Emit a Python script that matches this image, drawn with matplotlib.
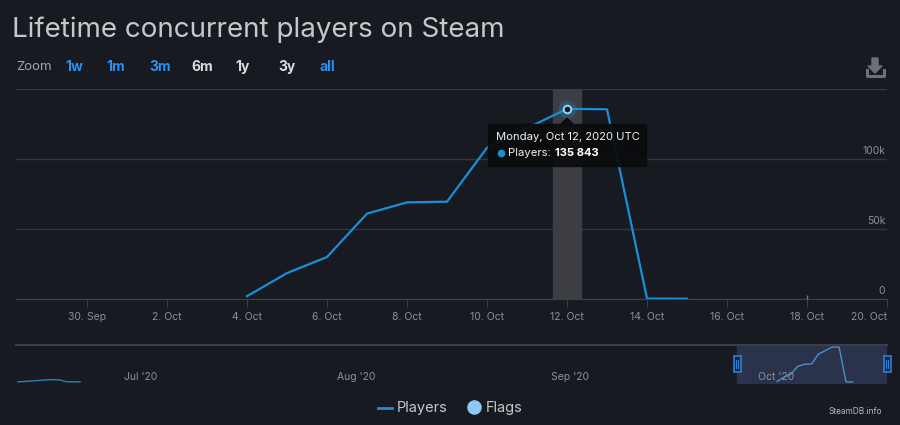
import matplotlib
matplotlib.use("Agg")
import matplotlib.pyplot as plt
import matplotlib.dates as mdates
from matplotlib.patches import Rectangle, Polygon
from matplotlib.lines import Line2D
from datetime import datetime
import numpy as np

# данные: пиковые игроки по дням (октябрь 2020)
dates = [datetime(2020, 10, d) for d in range(4, 19)]
players = [2000, 18500, 30000, 61000, 69000, 69500, 108000, 122000,
           135843, 135500, 300, 200, np.nan, np.nan, 1500]

# ранний плейтест в июне (виден только в навигаторе)
june_dates = [datetime(2020, 6, d) for d in [16, 18, 20, 21, 22, 23, 24, 25]]
june_players = [500, 4000, 8000, 9500, 8000, 1000, 500, 500]

yticks = [0, 50000, 100000, 150000]
ylabels = ["0", "50k", "100k", ""]
xticks = [datetime(2020, 9, 30)] + [datetime(2020, 10, d) for d in range(2, 21, 2)]
nav_months = [datetime(2020, 7, 1), datetime(2020, 8, 1), datetime(2020, 9, 1), datetime(2020, 10, 1)]
nav_labels = ["Jul '20", "Aug '20", "Sep '20", "Oct '20"]
zoom_buttons = ["1w", "1m", "3m", "6m", "1y", "3y", "all"]
zoom_active = [True, True, True, False, False, False, True]
hover_date = datetime(2020, 10, 12)
hover_value = 135843

BG = "#171a21"
BLUE = "#1b8ed8"
GRID = "#33363e"
LABEL = "#8a9099"
TEXT = "#c6c7c8"

W, H = 900, 425
plt.rcParams["font.family"] = ["Inter", "DejaVu Sans"]
fig = plt.figure(figsize=(9, 4.25), dpi=100, facecolor=BG)


def fx(x):
    return x / W


def fy(y):
    return 1 - y / H


def dot(x, y, size, color, **kw):
    fig.add_artist(Line2D([fx(x)], [fy(y)], marker="o", ms=size, color=color,
                          mec="none", transform=fig.transFigure, **kw))


# заголовок и кнопки масштаба
fig.text(fx(12), fy(30), "Lifetime concurrent players on Steam", fontsize=20,
         color=TEXT, va="center", ha="left")
fig.text(fx(16), fy(67), "Zoom", fontsize=9.5, color="#a3a7ad", va="center")
btn_x = [74, 116, 160, 202, 243, 287, 327]
for bx, lab, act in zip(btn_x, zoom_buttons, zoom_active):
    fig.text(fx(bx), fy(67), lab, fontsize=10, fontweight="bold",
             color="#2b8fef" if act else "#dcdcdc", va="center", ha="center")

# иконка скачивания
icon = "#6b6f76"
fig.add_artist(Polygon([(fx(872), fy(58)), (fx(878), fy(58)), (fx(878), fy(66)),
                        (fx(882), fy(66)), (fx(875), fy(73)), (fx(868), fy(66)),
                        (fx(872), fy(66))], closed=True, color=icon,
                       transform=fig.transFigure))
fig.add_artist(Line2D([fx(867), fx(867), fx(884), fx(884)],
                      [fy(70), fy(76), fy(76), fy(70)], color=icon, lw=2.2,
                      transform=fig.transFigure))

# основной график
ax = fig.add_axes([fx(16), fy(299), fx(887) - fx(16), (299 - 89) / H])
ax.set_facecolor(BG)
right = mdates.date2num(datetime(2020, 10, 20))
ax.set_xlim(right - 871 / 40, right)
ax.set_ylim(0, 150000)
for s in ["top", "left", "right"]:
    ax.spines[s].set_visible(False)
ax.spines["bottom"].set_color("#3b3f48")
ax.set_yticks(yticks)
ax.tick_params(axis="y", left=False, labelleft=False)
ax.grid(axis="y", color=GRID, lw=1)
ax.set_axisbelow(True)
for v, lab in zip(yticks, ylabels):
    ax.text(0.998, v + 2500, lab, transform=ax.get_yaxis_transform(),
            ha="right", va="bottom", fontsize=7.5, color=LABEL)

ax.set_xticks(xticks)
ax.set_xticklabels([f"{d.day}. {d.strftime('%b')}" for d in xticks])
ax.tick_params(axis="x", colors=LABEL, length=6, color="#3b3f48", labelsize=7.5, pad=3)
ax.get_xticklabels()[-1].set_ha("right")

hd = mdates.date2num(hover_date)
ax.axvspan(hd - 0.35, hd + 0.35, color="#3c3e43", zorder=1)
ax.plot(dates, players, color=BLUE, lw=1.6, zorder=3)
ax.plot(dates[-1:], players[-1:], marker="|", color=BLUE, ms=3, zorder=3)
ax.plot([hover_date], [hover_value], marker="o", ms=13, color=BLUE, alpha=0.25,
        mec="none", zorder=4)
ax.plot([hover_date], [hover_value], marker="o", ms=5.5, mfc="#1b2029",
        mec="#9fd3f7", mew=1.4, zorder=5)

# всплывающая подсказка
px, py = ax.transData.transform((hd, hover_value))
tt = "#0a0b0d"
fig.add_artist(Rectangle((fx(488), fy(166)), fx(646) - fx(488), (166 - 124) / H,
                         color=tt, alpha=0.92, transform=fig.transFigure, zorder=6))
fig.add_artist(Polygon([(fx(px - 6), fy(124)), (fx(px + 6), fy(124)), (fx(px), fy(118))],
                       color=tt, alpha=0.92, transform=fig.transFigure, zorder=6))
fig.text(fx(496), fy(137), hover_date.strftime("%A, %b %d, %Y") + " UTC",
         fontsize=8.1, color="#f0f0f0", va="center", zorder=7)
dot(500.5, 153, 5.5, BLUE, zorder=7)
t1 = fig.text(fx(508), fy(153), "Players:", fontsize=8.1, color="#f0f0f0", va="center", zorder=7)
r = fig.canvas.get_renderer()
x_end = t1.get_window_extent(r).x1
fig.text(fx(x_end + 4), fy(153), f"{hover_value:,}".replace(",", " "), fontsize=8.1,
         fontweight="bold", color="#ffffff", va="center", zorder=7)

# навигатор
nav = fig.add_axes([fx(16), fy(384), fx(887) - fx(16), 39 / H])
nav.set_facecolor(BG)
o4 = mdates.date2num(datetime(2020, 10, 4))
nav.set_xlim(o4 - 761 / 6.9, o4 + 110 / 6.9)
nav.set_ylim(-7760, 143600)
for s in ["bottom", "left", "right"]:
    nav.spines[s].set_visible(False)
nav.spines["top"].set_color("#3b3f48")
nav.spines["top"].set_linewidth(1.5)
nav.set_xticks([])
nav.set_yticks([])
nav.plot(june_dates, june_players, color="#2a7fb8", lw=1)
nav.plot(dates[:12], players[:12], color="#4a8fcc", lw=1)
sel0, sel1 = ax.get_xlim()
nav.axvspan(sel0, sel1, color="#2d3650", alpha=0.9, zorder=0)
for m, lab in zip(nav_months, nav_labels):
    nav.text(mdates.date2num(m) + 0.3, 0.18, lab, transform=nav.get_xaxis_transform(),
             fontsize=7.5, color="#8a9099", va="center", ha="left")
for edge in (sel0, sel1):
    ex, _ = nav.transData.transform((edge, 0))
    fig.add_artist(Rectangle((fx(ex - 3.5), fy(372)), 7 / W, 16 / H, fc="#1c2333",
                             ec="#2f7fd6", lw=1.2, transform=fig.transFigure))
    for dx in (-1, 1):
        fig.add_artist(Line2D([fx(ex + dx), fx(ex + dx)], [fy(360), fy(368)],
                              color="#2f7fd6", lw=0.8, transform=fig.transFigure))

# легенда
fig.add_artist(Line2D([fx(378), fx(392)], [fy(408), fy(408)], color=BLUE, lw=2,
                      transform=fig.transFigure))
fig.text(fx(397), fy(408), "Players", fontsize=10.5, color=TEXT, va="center")
dot(474, 407, 10.5, "#8ec6f4")
fig.text(fx(486), fy(408), "Flags", fontsize=10.5, color=TEXT, va="center")
fig.text(fx(882), fy(412), "SteamDB.info", fontsize=6, color="#b5b8bc", va="center", ha="right")

fig.savefig("out.png", dpi=100, facecolor=BG)
